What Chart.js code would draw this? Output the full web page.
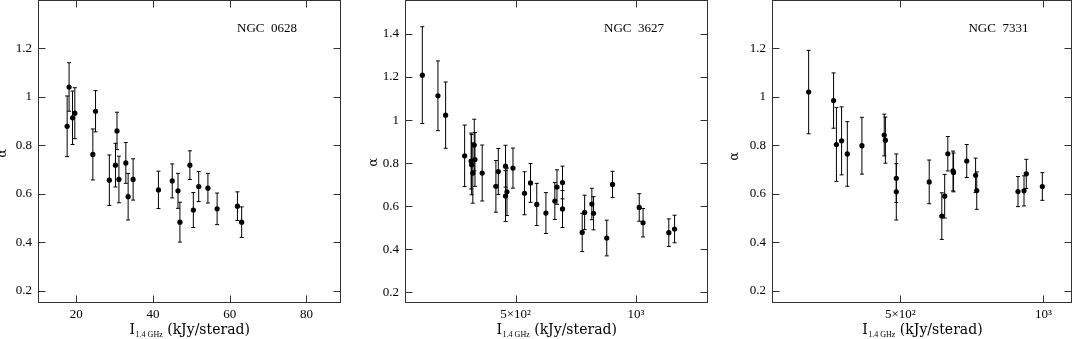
<!DOCTYPE html>
<html>
<head>
<meta charset="utf-8">
<script src="https://cdn.jsdelivr.net/npm/chart.js@4.4.1/dist/chart.umd.min.js"></script>
<style>
  html, body { margin: 0; padding: 0; background: #fff; overflow: hidden; }
  canvas { position: absolute; top: -3px; }
</style>
</head>
<body>
<canvas id="c1" width="350" height="342" style="left:0px"></canvas>
<canvas id="c2" width="360" height="342" style="left:355px"></canvas>
<canvas id="c3" width="357" height="342" style="left:718px"></canvas>
<script>
// NGC 0628
const x628 = [17.6, 18.1, 19.0, 19.6, 24.3, 25.0, 28.6, 30.2, 30.6, 31.1, 32.9, 33.5, 34.8, 41.4, 45.0, 46.5, 47.0, 49.6, 50.5, 51.9, 54.3, 56.7, 62.0, 63.1];
const a628 = [0.878, 1.04, 0.913, 0.932, 0.762, 0.94, 0.656, 0.718, 0.859, 0.659, 0.727, 0.588, 0.659, 0.616, 0.653, 0.612, 0.483, 0.718, 0.533, 0.63, 0.623, 0.538, 0.549, 0.483];
const e628 = [0.125, 0.10, 0.11, 0.105, 0.105, 0.085, 0.104, 0.09, 0.077, 0.096, 0.084, 0.096, 0.085, 0.077, 0.07, 0.072, 0.082, 0.059, 0.072, 0.062, 0.061, 0.065, 0.059, 0.063];

// NGC 3627
const x3627 = [112, 177, 209, 288, 315, 317, 322, 328, 331, 361, 418, 428, 458, 458, 464, 489, 537, 562, 588, 626, 663, 672, 695, 695, 777, 787, 817, 824, 879, 903, 1014, 1030, 1137, 1161];
const a3627 = [1.209, 1.113, 1.023, 0.834, 0.81, 0.793, 0.754, 0.884, 0.817, 0.754, 0.692, 0.761, 0.786, 0.647, 0.667, 0.777, 0.66, 0.708, 0.608, 0.568, 0.624, 0.689, 0.71, 0.587, 0.478, 0.571, 0.61, 0.567, 0.452, 0.701, 0.594, 0.523, 0.477, 0.494];
const e3627 = [0.225, 0.162, 0.154, 0.143, 0.13, 0.14, 0.14, 0.12, 0.125, 0.13, 0.12, 0.107, 0.097, 0.118, 0.11, 0.093, 0.1, 0.09, 0.098, 0.095, 0.086, 0.08, 0.076, 0.086, 0.089, 0.08, 0.073, 0.077, 0.083, 0.061, 0.064, 0.066, 0.064, 0.064];

// NGC 7331
const x7331 = [180, 267, 277, 295, 315, 366, 444, 448, 486, 486, 601, 645, 655, 666, 684, 686, 732, 763, 767, 911, 932, 940, 996];
const a7331 = [1.019, 0.984, 0.803, 0.818, 0.764, 0.798, 0.842, 0.821, 0.664, 0.608, 0.649, 0.508, 0.59, 0.765, 0.694, 0.688, 0.735, 0.676, 0.613, 0.609, 0.612, 0.682, 0.63];
const e7331 = [0.172, 0.114, 0.152, 0.14, 0.133, 0.117, 0.086, 0.095, 0.1, 0.116, 0.09, 0.096, 0.09, 0.071, 0.082, 0.08, 0.068, 0.071, 0.077, 0.062, 0.062, 0.06, 0.057];

// x tick labels for the log-style notation
const bigLabels = { 500: '5\u00d710\u00b2', 1000: '10\u00b3' };

Chart.defaults.font.family = "'Liberation Serif', serif";
Chart.defaults.font.size = 13;
Chart.defaults.color = '#000';

function isMajor(v, step) {
  const r = v / step;
  return Math.abs(r - Math.round(r)) < 1e-6;
}

// draws error bars, the box with inward ticks and the texts like pgplot does
const pgplot = {
  id: 'pgplot',
  beforeDatasetsDraw(chart, args, o) {
    const ctx = chart.ctx, xs = chart.scales.x, ys = chart.scales.y;
    const pts = chart.data.datasets[0].data;
    ctx.save();
    ctx.strokeStyle = '#000';
    ctx.lineWidth = 1;
    pts.forEach((p, i) => {
      const e = o.err[i];
      const px = xs.getPixelForValue(p.x);
      const t = ys.getPixelForValue(p.y + e), b = ys.getPixelForValue(p.y - e);
      ctx.beginPath();
      ctx.moveTo(px, t); ctx.lineTo(px, b);
      ctx.moveTo(px - 2, t); ctx.lineTo(px + 2, t);
      ctx.moveTo(px - 2, b); ctx.lineTo(px + 2, b);
      ctx.stroke();
    });
    ctx.restore();
  },
  afterDraw(chart, args, o) {
    const ctx = chart.ctx, xs = chart.scales.x, ys = chart.scales.y;
    const a = chart.chartArea;
    const L = Math.round(a.left) + 0.5, R = Math.round(a.right) - 0.5;
    const T = Math.round(a.top) + 0.5, B = Math.round(a.bottom) - 0.5;
    ctx.save();
    ctx.strokeStyle = '#333';
    ctx.lineWidth = 1;
    ctx.strokeRect(L, T, R - L, B - T);
    ctx.beginPath();
    xs.ticks.forEach(t => {
      const px = Math.round(xs.getPixelForValue(t.value)) + 0.5;
      const len = isMajor(t.value, o.xMajor) ? 7 : 4;
      ctx.moveTo(px, B); ctx.lineTo(px, B - len);
      ctx.moveTo(px, T); ctx.lineTo(px, T + len);
    });
    ys.ticks.forEach(t => {
      const py = Math.round(ys.getPixelForValue(t.value)) + 0.5;
      const len = isMajor(t.value, 0.2) ? 7 : 4;
      ctx.moveTo(L, py); ctx.lineTo(L + len, py);
      ctx.moveTo(R, py); ctx.lineTo(R - len, py);
    });
    ctx.stroke();

    ctx.fillStyle = '#000';
    // galaxy name
    ctx.font = "13px 'Liberation Serif'";
    ctx.textAlign = 'right';
    ctx.textBaseline = 'alphabetic';
    ctx.fillText(o.name, a.right - 44, 34.7);

    // y title
    ctx.save();
    ctx.translate(a.left + o.alphaDx, (a.top + a.bottom) / 2 + o.alphaDy);
    ctx.rotate(-Math.PI / 2);
    ctx.textAlign = 'center';
    ctx.textBaseline = 'middle';
    ctx.font = "13px 'DejaVu Serif'";
    ctx.fillText('\u03b1', 0, 0);
    ctx.restore();

    // x title: I with subscript 1.4 GHz
    const big = "14px 'DejaVu Serif'", small = "8px 'Liberation Serif'";
    const p1 = 'I', p2 = '1.4 GHz', p3 = ' (kJy/sterad)';
    ctx.textAlign = 'left';
    ctx.font = big; const w1 = ctx.measureText(p1).width, w3 = ctx.measureText(p3).width;
    ctx.font = small; const w2 = ctx.measureText(p2).width;
    let x = (a.left + a.right) / 2 - (w1 + w2 + w3) / 2;
    const base = 337;
    ctx.font = big; ctx.fillText(p1, x, base); x += w1 + 0.5;
    ctx.font = small; ctx.fillText(p2, x, base + 3); x += w2;
    ctx.font = big; ctx.fillText(p3, x, base);
    ctx.restore();
  }
};

function makePanel(id, xs, ys, errs, c) {
  return new Chart(document.getElementById(id), {
    type: 'scatter',
    data: {
      datasets: [{
        data: xs.map((x, i) => ({ x: x, y: ys[i] })),
        pointRadius: 2.6,
        pointHoverRadius: 2.6,
        backgroundColor: '#000',
        borderWidth: 0
      }]
    },
    options: {
      responsive: false,
      animation: false,
      events: [],
      layout: { padding: { top: 1, right: c.padRight, left: 0, bottom: 0 } },
      plugins: {
        legend: { display: false },
        tooltip: { enabled: false },
        pgplot: { err: errs, name: c.name, xMajor: c.xMajor, alphaDx: c.alphaDx, alphaDy: c.alphaDy }
      },
      scales: {
        x: {
          type: 'linear', min: c.xMin, max: c.xMax,
          grid: { display: false, drawTicks: false },
          border: { display: false },
          ticks: {
            stepSize: c.xStep, includeBounds: false, autoSkip: false, maxRotation: 0, padding: 4,
            callback: v => {
              if (!isMajor(v, c.xMajor)) return null;
              return c.xLabels ? (c.xLabels[v] || null) : String(v);
            }
          },
          afterFit: s => { s.height = 36; s.paddingLeft = 0; s.paddingRight = 0; }
        },
        y: {
          type: 'linear', min: 0.15, max: c.yMax,
          grid: { display: false, drawTicks: false },
          border: { display: false },
          ticks: {
            stepSize: 0.05, includeBounds: false, autoSkip: false, padding: 6,
            callback: v => {
              if (!isMajor(v, 0.2) || v > c.yMax - 0.1) return null;
              return String(Math.round(v * 10) / 10);
            }
          },
          afterFit: s => { s.width = c.yAxisW; s.paddingTop = 0; s.paddingBottom = 0; }
        }
      }
    },
    plugins: [pgplot]
  });
}

makePanel('c1', x628, a628, e628, {
  name: 'NGC  0628', xMin: 10, xMax: 89, xStep: 5, xMajor: 20, yMax: 1.4,
  yAxisW: 38, padRight: 9, alphaDx: -35.5, alphaDy: 2
});
makePanel('c2', x3627, a3627, e3627, {
  name: 'NGC  3627', xMin: 40, xMax: 1300, xStep: 100, xMajor: 500, xLabels: bigLabels, yMax: 1.56,
  yAxisW: 50, padRight: 7, alphaDx: -31.5, alphaDy: 11
});
makePanel('c3', x7331, a7331, e7331, {
  name: 'NGC  7331', xMin: 52, xMax: 1101, xStep: 100, xMajor: 500, xLabels: bigLabels, yMax: 1.4,
  yAxisW: 54, padRight: 0, alphaDx: -37.5, alphaDy: 5
});
</script>
</body>
</html>
